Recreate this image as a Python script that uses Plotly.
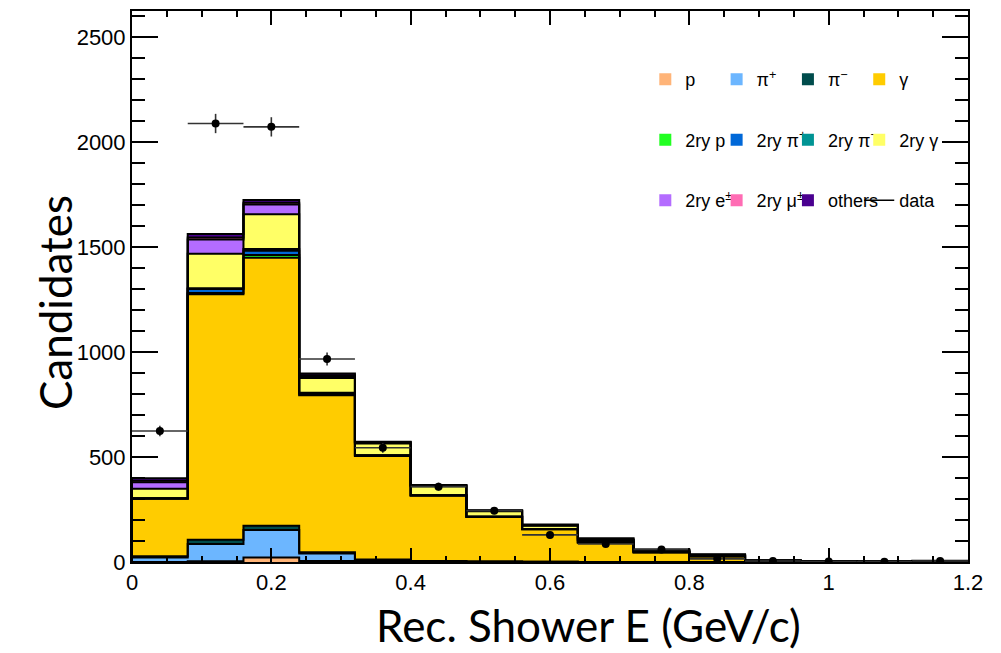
import numpy as np
import plotly.graph_objects as go

# ---------------- data ----------------
bin_edges = [0.0, 0.08, 0.16, 0.24, 0.32, 0.40, 0.48, 0.56, 0.64, 0.72, 0.80, 0.88, 0.96, 1.04, 1.12, 1.20]

comp_names = ["p", "π<sup>+</sup>", "π<sup>−</sup>", "γ",
              "2ry p", "2ry π<sup>+</sup>", "2ry π<sup>−</sup>", "2ry γ",
              "2ry e<sup>±</sup>", "2ry μ<sup>±</sup>", "others"]

p_vals       = [0, 3, 22, 5, 2, 1, 0, 0, 0, 0, 0, 0, 0, 0, 0]
pip_vals     = [22, 83, 130, 35, 8, 3, 2, 1, 0, 0, 0, 0, 0, 0, 0]
pim_vals     = [5, 20, 21, 6, 2, 1, 0, 0, 0, 0, 0, 0, 0, 0, 0]
gamma_vals   = [274, 1170, 1276, 749, 493, 312, 213, 155, 93, 47, 27, 5, 2, 1, 4]
p2_vals      = [1, 5, 14, 3, 1, 0, 0, 0, 0, 0, 0, 0, 0, 0, 0]
pip2_vals    = [2, 20, 20, 6, 2, 1, 1, 1, 1, 0, 0, 0, 0, 0, 0]
pim2_vals    = [0, 3, 8, 2, 1, 0, 0, 0, 0, 0, 0, 0, 0, 0, 0]
gamma2_vals  = [45, 164, 166, 70, 55, 43, 26, 16, 9, 6, 4, 1, 0, 0, 1]
e2_vals      = [31, 68, 46, 10, 5, 3, 2, 2, 3, 2, 2, 1, 0, 0, 0]
mu2_vals     = [7, 10, 8, 4, 1, 1, 0, 0, 1, 1, 1, 0, 0, 0, 0]
others_vals  = [12, 17, 13, 8, 3, 2, 2, 4, 6, 4, 3, 1, 1, 1, 1]

data_vals = [624, 2089, 2073, 967, 544, 359, 244, 129, 86, 60, 15, 5, 2, 1, 5]
data_err  = [25, 46, 46, 31, 23, 19, 16, 12, 9, 8, 4, 2, 1.5, 1, 2]
data_xerr = [0.04] * 15

comp_vals = [p_vals, pip_vals, pim_vals, gamma_vals, p2_vals, pip2_vals,
             pim2_vals, gamma2_vals, e2_vals, mu2_vals, others_vals]

# ---------------- styles ----------------
comp_colors = ["#ffb478", "#6cb6ff", "#004c4c", "#ffcc00",
               "#22ff22", "#0068d8", "#009494", "#ffff66",
               "#b46cff", "#ff6cb4", "#4a0090"]
# legend column for each component (4 columns, 3 rows)
comp_legend = ["legend", "legend2", "legend3", "legend4",
               "legend", "legend2", "legend3", "legend4",
               "legend", "legend2", "legend3"]

edges = np.array(bin_edges)
centers = (edges[:-1] + edges[1:]) / 2
widths = edges[1:] - edges[:-1]

fig = go.Figure()

# stacked filled bars (no outlines)
for name, vals, col, lg in zip(comp_names, comp_vals, comp_colors, comp_legend):
    fig.add_trace(go.Bar(
        x=centers, y=vals, width=widths, name=name,
        marker=dict(color=col, line=dict(width=0)),
        legend=lg, legendgroup=name, showlegend=True,
        hoverinfo="skip"))

# ROOT-like step outlines of each cumulative level
cum = np.cumsum(np.array(comp_vals, dtype=float), axis=0)
for level in cum:
    xs = [edges[0]] + list(edges[:-1]) + [edges[-1], edges[-1]]
    ys = [0] + list(level) + [level[-1], 0]
    fig.add_trace(go.Scatter(
        x=xs, y=ys, mode="lines", line=dict(color="black", width=2, shape="hv"),
        showlegend=False, hoverinfo="skip"))

# data points
fig.add_trace(go.Scatter(
    x=centers, y=data_vals, mode="markers",
    marker=dict(color="black", size=8),
    error_y=dict(type="data", array=data_err, color="#333333", thickness=1.6, width=0),
    error_x=dict(type="data", array=data_xerr, color="#333333", thickness=1.6, width=0),
    showlegend=False, name="data"))

# legend entry for data
fig.add_trace(go.Scatter(
    x=[None], y=[None], mode="lines", name="data",
    line=dict(color="black", width=1.5),
    legend="legend4", legendgroup="data", showlegend=True))

leg_common = dict(bgcolor="rgba(0,0,0,0)", borderwidth=0,
                  font=dict(family="Liberation Sans, Arial, sans-serif", size=18, color="black"),
                  tracegroupgap=34, yanchor="top", xanchor="left",
                  traceorder="grouped", itemclick=False, itemdoubleclick=False)
ly = 0.909
lx0, ldx = 0.614, 0.0853
fig.update_layout(
    legend=dict(x=lx0, y=ly, **leg_common),
    legend2=dict(x=lx0 + ldx, y=ly, **leg_common),
    legend3=dict(x=lx0 + 2 * ldx, y=ly, **leg_common),
    legend4=dict(x=lx0 + 3 * ldx, y=ly, **leg_common),
)

tickfont = dict(family="Liberation Sans, Arial, sans-serif", size=22, color="black")
titlefont = dict(family="Lato, sans-serif", size=44, color="black")
fig.update_layout(
    width=1001, height=653,
    margin=dict(l=132, r=33, t=9, b=91),
    paper_bgcolor="white", plot_bgcolor="white",
    barmode="stack", bargap=0,
    xaxis=dict(range=[0, 1.2], dtick=0.2, tick0=0, ticks="inside", ticklen=14,
               tickwidth=1.5, tickcolor="black", mirror="allticks", showline=True,
               linecolor="black", linewidth=2, showgrid=False, zeroline=False,
               tickfont=tickfont, tickformat="~g",
               minor=dict(dtick=0.05, ticks="inside", ticklen=6, tickwidth=1.5,
                          tickcolor="black", showgrid=False)),
    yaxis=dict(range=[0, 2625], dtick=500, tick0=0, ticks="inside", ticklen=26,
               tickwidth=1.5, tickcolor="black", mirror="allticks", showline=True,
               linecolor="black", linewidth=2, showgrid=False, zeroline=False,
               tickfont=tickfont,
               minor=dict(dtick=100, ticks="inside", ticklen=13, tickwidth=1.5,
                          tickcolor="black", showgrid=False)),
    annotations=[
        dict(text="Rec. Shower E (GeV/c)", xref="paper", yref="paper",
             x=0.546, y=-0.163, xanchor="center", yanchor="bottom",
             showarrow=False, font=titlefont, borderpad=0),
        dict(text="Candidates", xref="paper", yref="paper", textangle=-90,
             x=-0.092, y=0.47, xanchor="center", yanchor="middle",
             showarrow=False, font=titlefont),
    ],
)

fig.write_html("out.html")
